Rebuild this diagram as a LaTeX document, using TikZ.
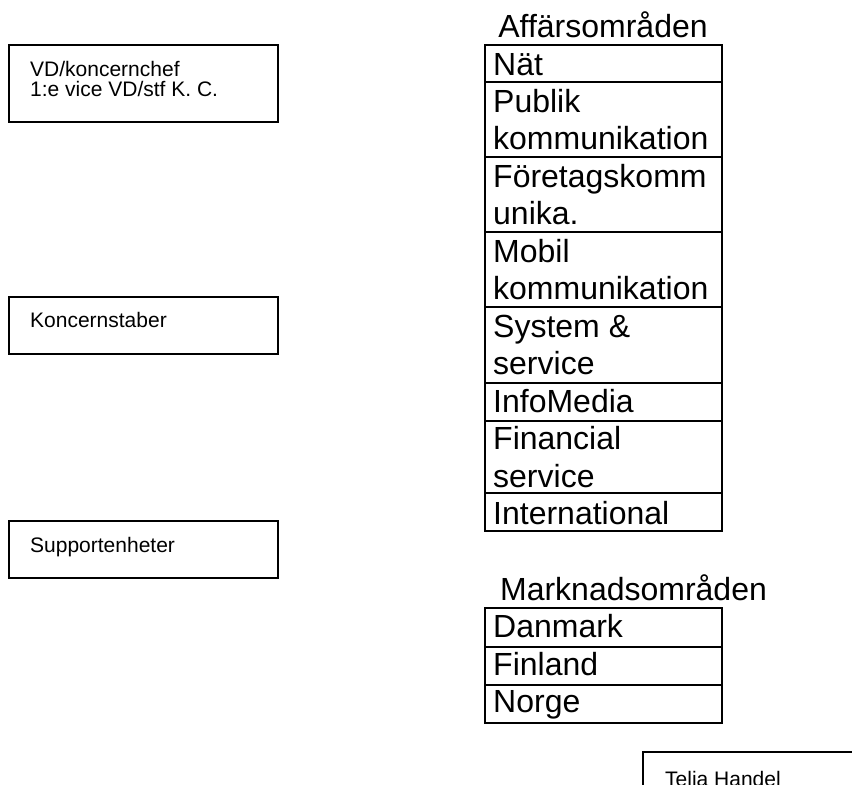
\documentclass[tikz,border=0pt]{standalone}
\usepackage{fontspec}
\setmainfont{Liberation Sans}
% two lines stacked, the first line's baseline taken as the box's baseline
\newcommand{\rowpair}[2]{\vtop{\hbox{#1}\hbox{#2}}}
\begin{document}
\begin{tikzpicture}[x=1pt,y=-1pt,
  frame/.style={draw=black,line width=1.3pt},
  cell/.style={draw=black,line width=1.8pt},
  small/.style={inner sep=0pt,anchor=base west,font=\fontsize{21}{21}\selectfont},
  big/.style={inner sep=0pt,anchor=base west,font=\fontsize{32}{37.5}\selectfont},
  heading/.style={inner sep=0pt,anchor=base,font=\fontsize{32}{37.5}\selectfont}]
\useasboundingbox (0,0) rectangle (852,785);
\clip (0,0) rectangle (852,785);
\fill[white] (0,0) rectangle (852,785);

% left column: management boxes
\draw[frame] (9,45) rectangle (278,122);
\node[small] (vd) at (30,76) {VD/koncernchef};
\node[small] (vice) at (30,96.5) {1:e vice VD/stf K. C.};

\draw[frame] (9,297) rectangle (278,354);
\node[small] (staber) at (30,327) {Koncernstaber};

\draw[frame] (9,521) rectangle (278,578);
\node[small] (support) at (30,552) {Supportenheter};

% business areas
\node[heading] (affar) at (603,37) {Affärsområden};
\foreach \ya/\yb in {45/82,82/157,157/232,232/307,307/383,383/421,421/493,493/531}
  \draw[cell] (485,\ya) rectangle (722,\yb);
\node[big] (nat) at (493,75) {Nät};
\node[big] (publik) at (493,112) {\rowpair{Publik}{kommunikation}};
\node[big] (foretag) at (493,187) {\rowpair{Företagskomm}{unika.}};
\node[big] (mobil) at (493,262) {\rowpair{Mobil}{kommunikation}};
\node[big] (system) at (493,337) {\rowpair{System \&}{service}};
\node[big] (info) at (493,412) {InfoMedia};
\node[big] (financial) at (493,449.5) {\rowpair{Financial}{service}};
\node[big] (intl) at (493,524.5) {International};

% market areas
\node[heading] (marknad) at (633.5,600) {Marknadsområden};
\foreach \ya/\yb in {608/647,647/685,685/723}
  \draw[cell] (485,\ya) rectangle (722,\yb);
\node[big] (danmark) at (493,637.5) {Danmark};
\node[big] (finland) at (493,675) {Finland};
\node[big] (norge) at (493,712.5) {Norge};

% retail unit, running past the edge
\draw[frame] (643,800) |- (870,752);
\node[small] (handel) at (665,786) {Telia Handel};
\end{tikzpicture}
\end{document}
